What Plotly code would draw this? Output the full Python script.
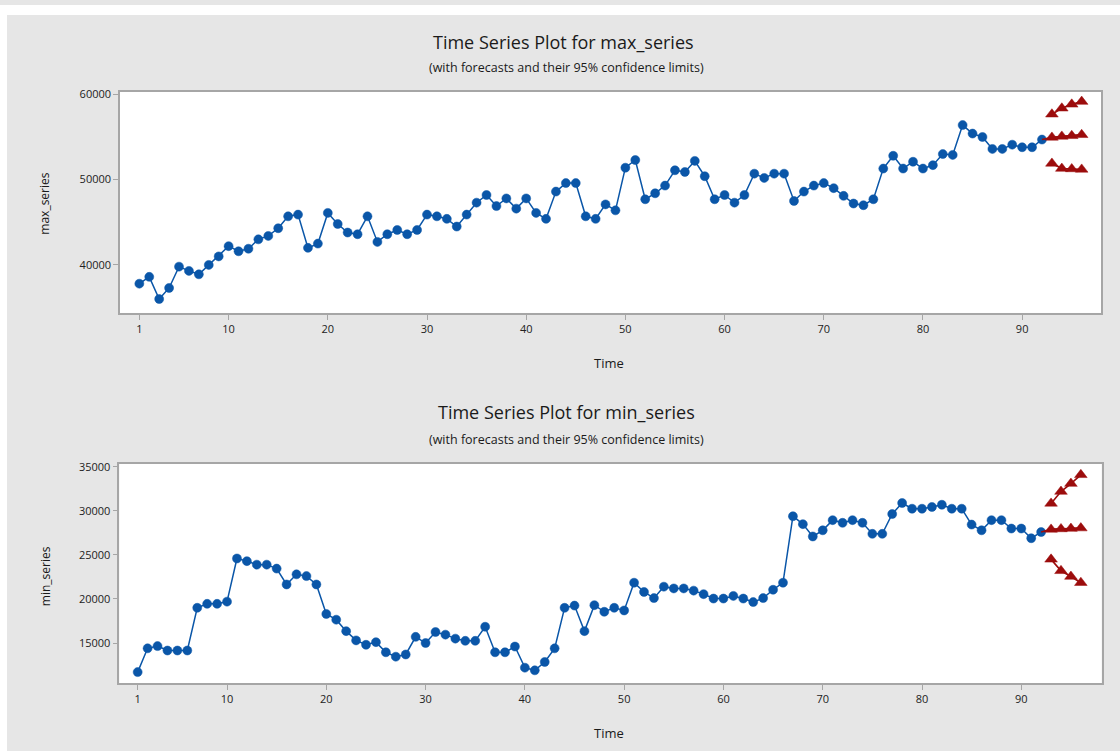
import plotly.graph_objects as go

# ---------------- data ----------------
time = list(range(1, 93))
fc_time = [93, 94, 95, 96]

max_series = [37800, 38600, 36000, 37300, 39800, 39300, 38900, 40000, 41000, 42200,
              41600, 41900, 43000, 43400, 44300, 45700, 45900, 42000, 42500, 46100,
              44800, 43800, 43600, 45700, 42700, 43600, 44100, 43600, 44100, 45900,
              45700, 45400, 44500, 45900, 47300, 48200, 46900, 47800, 46600, 47800,
              46100, 45400, 48600, 49600, 49600, 45700, 45400, 47100, 46400, 51400,
              52300, 47700, 48400, 49300, 51100, 50900, 52200, 50400, 47700, 48200,
              47300, 48200, 50700, 50200, 50700, 50700, 47500, 48600, 49300, 49600,
              49000, 48100, 47200, 47000, 47700, 51300, 52800, 51300, 52100, 51300,
              51700, 53000, 52900, 56400, 55400, 55000, 53600, 53600, 54100, 53800,
              53800, 54700]
max_forecast = [54950, 55070, 55140, 55260]
max_upper = [57670, 58370, 58830, 59150]
max_lower = [51900, 51300, 51250, 51200]

min_series = [11700, 14400, 14650, 14150, 14150, 14150, 19000, 19450, 19450, 19700,
              24600, 24300, 23900, 23900, 23450, 21650, 22800, 22600, 21650, 18300,
              17650, 16350, 15300, 14800, 15100, 13950, 13450, 13700, 15700, 15000,
              16250, 15950, 15500, 15250, 15250, 16850, 13950, 13950, 14600, 12200,
              11900, 12850, 14400, 19000, 19250, 16350, 19300, 18550, 19000, 18700,
              21850, 20800, 20100, 21400, 21200, 21200, 20950, 20550, 20050, 20050,
              20350, 20050, 19650, 20100, 21050, 21850, 29400, 28500, 27100, 27800,
              28950, 28650, 28950, 28650, 27400, 27400, 29650, 30900, 30250, 30250,
              30450, 30700, 30250, 30250, 28450, 27800, 28950, 28950, 28000, 28000,
              26900, 27600]
min_forecast = [27900, 27950, 28000, 28050]
min_upper = [30850, 32200, 33100, 34100]
min_lower = [24500, 23200, 22550, 21850]

x_ticks = [1, 10, 20, 30, 40, 50, 60, 70, 80, 90]
max_y_ticks = [40000, 50000, 60000]
min_y_ticks = [15000, 20000, 25000, 30000, 35000]

# ---------------- styles ----------------
BLUE = "#0a56a8"
RED = "#9c0c0c"
BG = "#e6e6e6"
BORDER = "#a6a6a6"
FONT = "Open Sans"
W, H = 1120, 751

fig = go.Figure()


def add_panel(series, fc, up, lo, xa, ya):
    fig.add_trace(go.Scatter(
        x=time, y=series, mode="lines+markers", xaxis=xa, yaxis=ya,
        line=dict(color=BLUE, width=1.5),
        marker=dict(color=BLUE, size=9, symbol="circle",
                    line=dict(color=BLUE, width=0.5)),
        showlegend=False, hoverinfo="x+y"))
    # forecasts, joined to the last observed value
    fig.add_trace(go.Scatter(
        x=[time[-1]] + fc_time, y=[series[-1]] + fc, mode="lines",
        xaxis=xa, yaxis=ya, line=dict(color=RED, width=1.6),
        showlegend=False, hoverinfo="skip"))
    for ys in (fc, up, lo):
        fig.add_trace(go.Scatter(
            x=fc_time, y=ys, mode="lines+markers", xaxis=xa, yaxis=ya,
            line=dict(color=RED, width=1.6),
            marker=dict(color=RED, size=11, symbol="triangle-up",
                        line=dict(color=RED, width=0.5)),
            showlegend=False, hoverinfo="x+y"))


add_panel(max_series, max_forecast, max_upper, max_lower, "x", "y")
add_panel(min_series, min_forecast, min_upper, min_lower, "x2", "y2")


def px_x(p):
    return p / W


def px_y(p):
    return 1 - p / H


axis_common = dict(
    showgrid=False, zeroline=False, showline=True, linecolor=BORDER,
    linewidth=1.5, mirror=True, ticks="outside", ticklen=5,
    tickcolor=BORDER, tickwidth=1, tickformat="d",
    tickfont=dict(family=FONT, size=11, color="#222222"),
)

fig.update_layout(
    width=W, height=H,
    margin=dict(l=0, r=0, t=0, b=0),
    paper_bgcolor=BG, plot_bgcolor="white",
    showlegend=False,
    xaxis=dict(domain=[px_x(120), px_x(1101)], range=[-0.95, 97.95],
               tickvals=x_ticks, anchor="y", **axis_common),
    yaxis=dict(domain=[px_y(310), px_y(87.3)], range=[34370, 60310],
               tickvals=max_y_ticks, anchor="x", **axis_common),
    xaxis2=dict(domain=[px_x(119.3), px_x(1101.7)], range=[-0.85, 98.1],
                tickvals=x_ticks, anchor="y2", **axis_common),
    yaxis2=dict(domain=[px_y(683), px_y(461.7)], range=[10410, 35370],
                tickvals=min_y_ticks, anchor="x2", **axis_common),
)

# white outer strips (top and left) around the grey panel
fig.add_shape(type="rect", xref="paper", yref="paper", x0=0, x1=1,
              y0=px_y(10), y1=1, fillcolor="white", line_width=0, layer="below")
fig.add_shape(type="rect", xref="paper", yref="paper", x0=0, x1=px_x(7),
              y0=0, y1=1, fillcolor="white", line_width=0, layer="below")


def text(s, x, y, size, angle=0, color="#1a1a1a"):
    fig.add_annotation(text=s, xref="paper", yref="paper", x=px_x(x), y=px_y(y),
                       showarrow=False, xanchor="center", yanchor="middle",
                       textangle=angle,
                       font=dict(family=FONT, size=size, color=color))


text("Time Series Plot for max_series", 563, 37, 18)
text("(with forecasts and their 95% confidence limits)", 566, 63, 12.5)
text("Time Series Plot for min_series", 566, 410, 18)
text("(with forecasts and their 95% confidence limits)", 566, 437, 12.5)
text("Time", 609, 360, 13)
text("Time", 609, 733, 13)
text("max_series", 45, 200, 12, angle=-90)
text("min_series", 45, 575, 12, angle=-90)

fig.write_html(
    "out.html",
    config={"displayModeBar": False},
    post_script=(
        "document.documentElement.style.margin='0';"
        "document.body.style.margin='0';"
        "document.body.style.overflow='hidden';"
        "var d=document.getElementById('{plot_id}');"
        "d.style.position='fixed';d.style.top='0px';d.style.left='0px';"
    ),
)
